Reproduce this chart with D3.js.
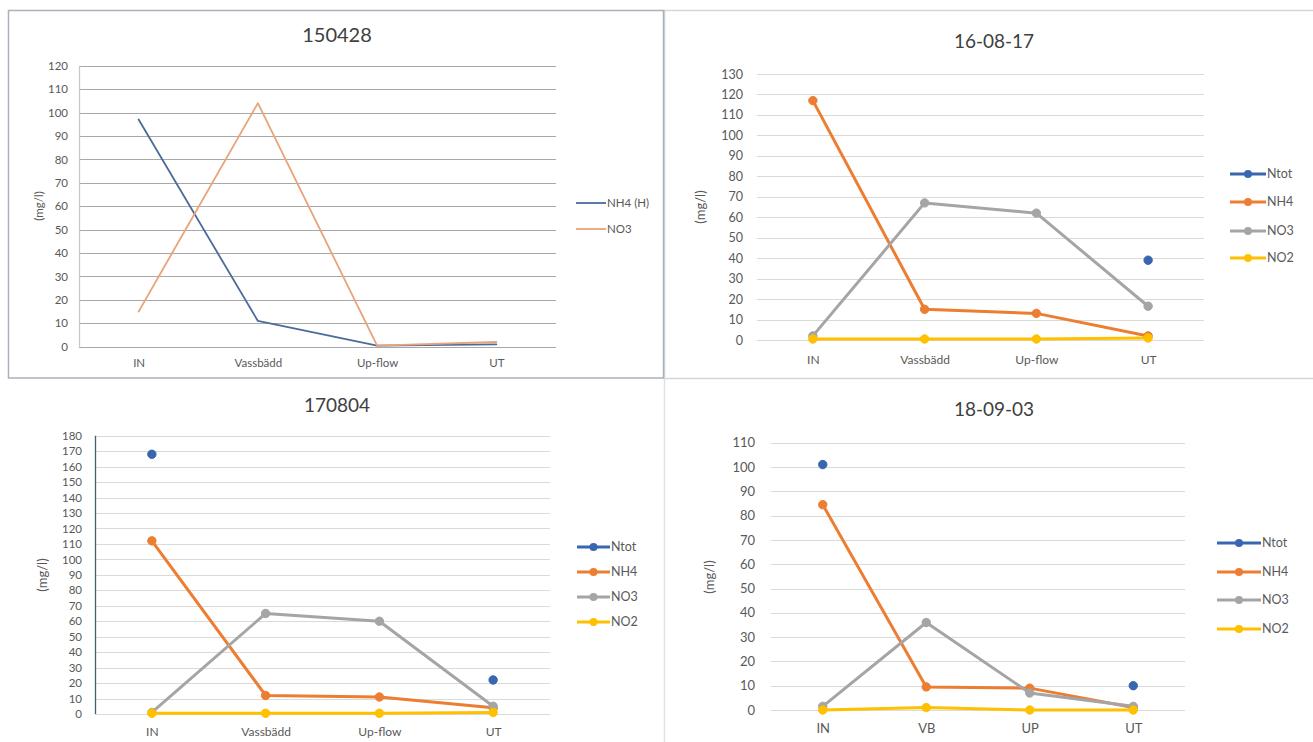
<!DOCTYPE html>
<html>
<head>
<meta charset="utf-8">
<script src="https://cdn.jsdelivr.net/npm/d3@7"></script>
<style>
  html, body { margin: 0; padding: 0; background: #fff; }
  svg { display: block; font-family: Lato, "Open Sans", "Liberation Sans", sans-serif; }
</style>
</head>
<body>
<svg id="chart" width="1313" height="742"></svg>
<script>
// ---------- DATA ----------
const categoriesLong = ["IN", "Vassbädd", "Up-flow", "UT"];
const categoriesShort = ["IN", "VB", "UP", "UT"];

// Panel 1: 150428
const p1_NH4H = [97, 11, 0.5, 1];
const p1_NO3  = [15, 104, 0.5, 2];

// Panel 2: 16-08-17
const p2_Ntot = [null, null, null, 39];
const p2_NH4  = [117, 15, 13, 2];
const p2_NO3  = [2, 67, 62, 16.5];
const p2_NO2  = [0.5, 0.5, 0.5, 1];

// Panel 3: 170804
const p3_Ntot = [168, null, null, 22];
const p3_NH4  = [112, 12, 11, 4];
const p3_NO3  = [1, 65, 60, 5];
const p3_NO2  = [0.5, 0.5, 0.5, 1];

// Panel 4: 18-09-03
const p4_Ntot = [101, null, null, 10];
const p4_NH4  = [84.5, 9.5, 9, 1];
const p4_NO3  = [1.5, 36, 7, 1.5];
const p4_NO2  = [0, 1, 0, 0];

const titles = ["150428", "16-08-17", "170804", "18-09-03"];
const yMaxes = [120, 130, 180, 110];
const yLabel = "(mg/l)";

// ---------- STYLE ----------
const C = { Ntot: "#3866b0", NH4: "#ed7d31", NO3: "#a5a5a5", NO2: "#ffc000" };

const svg = d3.select("#chart");

// panel frames
svg.append("rect").attr("x", 664.5).attr("y", 10.5).attr("width", 660).attr("height", 368)
  .attr("fill", "none").attr("stroke", "#d4d6d8").attr("stroke-width", 1.5);
svg.append("line").attr("x1", 664.5).attr("x2", 664.5).attr("y1", 378).attr("y2", 742)
  .attr("stroke", "#e2e2e2").attr("stroke-width", 1.5);
svg.append("rect").attr("x", 8.5).attr("y", 10.5).attr("width", 655).attr("height", 367.5)
  .attr("fill", "none").attr("stroke", "#a9b1ba").attr("stroke-width", 1.5);

const panels = [
  { title: titles[0], titleX: 337, titleY: 42, titleSize: 20,
    cats: categoriesLong, yMax: yMaxes[0], xr: [79, 556], yr: [346.7, 65.7],
    tickRight: 68, tickSize: 11.5, xLabY: 367, xLabSize: 11.5,
    gridColor: "#a8a8a8", axisColor: "#c8c8c8",
    yLabX: 39, yLabY: 206, yLabSize: 11.5,
    series: [ { name: "NH4 (H)", values: p1_NH4H, color: "#4a6c9a" },
              { name: "NO3", values: p1_NO3, color: "#e9a27a" } ],
    lineW: 1.8, markers: false,
    legX: 576, legLen: 30, legY: [203, 229], legSize: 11.5 },
  { title: titles[1], titleX: 994, titleY: 48, titleSize: 19,
    cats: categoriesLong, yMax: yMaxes[1], xr: [757, 1204], yr: [340, 74],
    tickRight: 743, tickSize: 12.5, xLabY: 364, xLabSize: 12,
    gridColor: "#dadada", axisColor: null,
    yLabX: 700, yLabY: 207, yLabSize: 13,
    series: [ { name: "Ntot", values: p2_Ntot, color: C.Ntot },
              { name: "NH4", values: p2_NH4, color: C.NH4 },
              { name: "NO3", values: p2_NO3, color: C.NO3 },
              { name: "NO2", values: p2_NO2, color: C.NO2 } ],
    lineW: 3, markers: true,
    legX: 1230, legLen: 36, legY: [174, 202, 231, 258], legSize: 12.5 },
  { title: titles[2], titleX: 337, titleY: 412, titleSize: 19,
    cats: categoriesLong, yMax: yMaxes[2], xr: [95, 550], yr: [714, 435.7],
    tickRight: 82, tickSize: 11.5, xLabY: 736, xLabSize: 12,
    gridColor: "#dadada", axisColor: "#3f6470",
    yLabX: 42, yLabY: 575, yLabSize: 13,
    series: [ { name: "Ntot", values: p3_Ntot, color: C.Ntot },
              { name: "NH4", values: p3_NH4, color: C.NH4 },
              { name: "NO3", values: p3_NO3, color: C.NO3 },
              { name: "NO2", values: p3_NO2, color: C.NO2 } ],
    lineW: 3, markers: true,
    legX: 577, legLen: 33, legY: [547, 572, 597, 622], legSize: 12.5 },
  { title: titles[3], titleX: 994, titleY: 416, titleSize: 19,
    cats: categoriesShort, yMax: yMaxes[3], xr: [771, 1185], yr: [710, 442.7],
    tickRight: 755, tickSize: 13, xLabY: 734, xLabSize: 13,
    gridColor: "#dadada", axisColor: null,
    yLabX: 709, yLabY: 577, yLabSize: 13,
    series: [ { name: "Ntot", values: p4_Ntot, color: C.Ntot },
              { name: "NH4", values: p4_NH4, color: C.NH4 },
              { name: "NO3", values: p4_NO3, color: C.NO3 },
              { name: "NO2", values: p4_NO2, color: C.NO2 } ],
    lineW: 3, markers: true,
    legX: 1217, legLen: 44, legY: [543, 572, 600, 629], legSize: 12.5 }
];

panels.forEach(p => {
  const g = svg.append("g");
  const x = d3.scalePoint().domain(p.cats).range(p.xr).padding(0.5);
  const y = d3.scaleLinear().domain([0, p.yMax]).range(p.yr);
  const ticks = d3.range(0, p.yMax + 1, 10);

  // title
  g.append("text").attr("x", p.titleX).attr("y", p.titleY)
    .attr("text-anchor", "middle").attr("font-size", p.titleSize)
    .attr("fill", "#404040").text(p.title);

  // gridlines
  g.append("g").selectAll("line").data(ticks).join("line")
    .attr("x1", p.xr[0]).attr("x2", p.xr[1])
    .attr("y1", d => Math.round(y(d)) + 0.5).attr("y2", d => Math.round(y(d)) + 0.5)
    .attr("stroke", p.gridColor).attr("stroke-width", 1);

  // y axis (labels only, via d3 axis)
  const yAxis = g.append("g").attr("transform", `translate(${p.tickRight},0)`)
    .call(d3.axisLeft(y).tickValues(ticks).tickSize(0).tickPadding(0));
  yAxis.select(".domain").remove();
  yAxis.selectAll("text").attr("font-size", p.tickSize).attr("fill", "#595959")
    .attr("font-family", "Lato, 'Open Sans', sans-serif");

  if (p.axisColor) {
    g.append("line").attr("x1", p.xr[0] + 0.5).attr("x2", p.xr[0] + 0.5)
      .attr("y1", y(p.yMax)).attr("y2", y(0))
      .attr("stroke", p.axisColor).attr("stroke-width", 1.3);
  }

  // x axis labels via d3 axis
  const xAxis = g.append("g").attr("transform", `translate(0,${p.xLabY - p.xLabSize * 0.75})`)
    .call(d3.axisBottom(x).tickSize(0).tickPadding(0));
  xAxis.select(".domain").remove();
  xAxis.selectAll("text").attr("font-size", p.xLabSize).attr("fill", "#595959")
    .attr("font-family", "Lato, 'Open Sans', sans-serif");

  // y axis title
  g.append("text").attr("transform", `translate(${p.yLabX},${p.yLabY}) rotate(-90)`)
    .attr("text-anchor", "middle").attr("dy", "0.35em")
    .attr("font-size", p.yLabSize).attr("fill", "#595959").text(yLabel);

  // series lines (draw in reverse so NH4 etc. layering similar to Excel: later on top)
  const line = d3.line().defined(d => d.v !== null).x(d => x(d.c)).y(d => y(d.v));
  p.series.forEach(s => {
    const pts = s.values.map((v, i) => ({ c: p.cats[i], v }));
    g.append("path").datum(pts).attr("d", line)
      .attr("fill", "none").attr("stroke", s.color).attr("stroke-width", p.lineW)
      .attr("stroke-linejoin", "round").attr("stroke-linecap", "round");
    if (p.markers) {
      g.append("g").selectAll("circle").data(pts.filter(d => d.v !== null)).join("circle")
        .attr("cx", d => x(d.c)).attr("cy", d => y(d.v)).attr("r", 4.2)
        .attr("fill", s.color).attr("stroke", s.color);
    }
  });

  // legend
  p.series.forEach((s, i) => {
    const ly = p.legY[i];
    g.append("line").attr("x1", p.legX).attr("x2", p.legX + p.legLen)
      .attr("y1", ly).attr("y2", ly).attr("stroke", s.color).attr("stroke-width", p.lineW);
    if (p.markers) {
      g.append("circle").attr("cx", p.legX + p.legLen / 2).attr("cy", ly).attr("r", 4)
        .attr("fill", s.color);
    }
    g.append("text").attr("x", p.legX + p.legLen + 1).attr("y", ly).attr("dy", "0.35em")
      .attr("font-size", p.legSize).attr("fill", "#595959").text(s.name);
  });
});
</script>
</body>
</html>
